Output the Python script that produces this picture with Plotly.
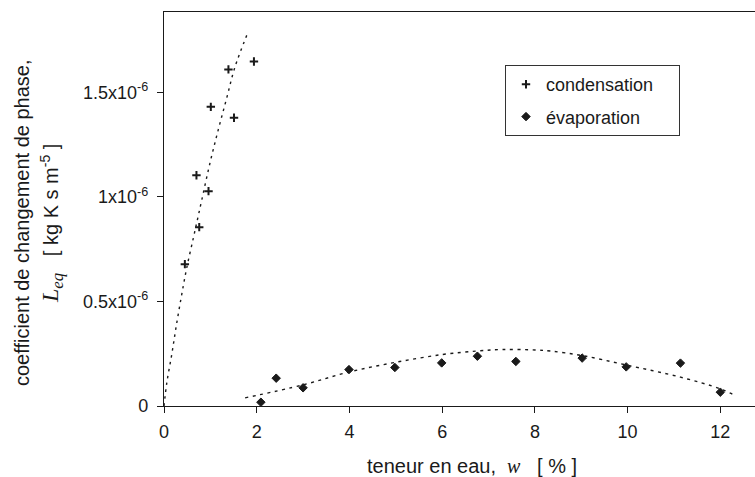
import plotly.graph_objects as go

# ---- data ----
cond_w = [0.45, 0.70, 0.76, 0.96, 1.01, 1.39, 1.51, 1.94]
cond_L = [0.678e-6, 1.103e-6, 0.855e-6, 1.027e-6, 1.430e-6, 1.609e-6, 1.378e-6, 1.647e-6]

evap_w = [2.09, 2.42, 3.00, 3.99, 4.98, 5.99, 6.76, 7.59, 9.02, 9.97, 11.14, 12.00]
evap_L = [0.018e-6, 0.133e-6, 0.087e-6, 0.174e-6, 0.184e-6, 0.206e-6, 0.238e-6,
          0.213e-6, 0.229e-6, 0.187e-6, 0.205e-6, 0.066e-6]

# trend curves
cond_fit_w = [0.0, 0.06, 0.17, 0.27, 0.38, 0.49, 0.63, 0.72, 0.81, 0.99, 1.17, 1.35, 1.53, 1.80]
cond_fit_L = [0.0, 0.11e-6, 0.25e-6, 0.39e-6, 0.53e-6, 0.66e-6, 0.80e-6, 0.89e-6, 0.98e-6,
              1.16e-6, 1.32e-6, 1.47e-6, 1.62e-6, 1.78e-6]

evap_fit_w = [1.75, 3.0, 4.0, 5.0, 6.0, 6.76, 7.3, 8.0, 8.36, 9.02, 9.97, 11.14, 12.0, 12.35]
evap_fit_L = [0.039e-6, 0.101e-6, 0.163e-6, 0.209e-6, 0.246e-6, 0.263e-6, 0.270e-6, 0.268e-6,
              0.262e-6, 0.241e-6, 0.196e-6, 0.138e-6, 0.082e-6, 0.047e-6]

x_ticks = [0, 2, 4, 6, 8, 10, 12]
y_tickvals = [0, 0.5e-6, 1e-6, 1.5e-6]
y_ticktext = ["0", "0.5x10<sup>-6</sup>", "1x10<sup>-6</sup>", "1.5x10<sup>-6</sup>"]

names = ["condensation", "évaporation"]

# ---- figure ----
W, H = 755, 477
ML, MR, MT, MB = 164, 0, 12, 71
PW, PH = W - ML - MR, H - MT - MB
INK = "#1a1a1a"
SANS = "Liberation Sans, Arial, sans-serif"


def px(xp):
    return (xp - ML) / PW


def py(yp):
    return (H - MB - yp) / PH


fig = go.Figure()

fig.add_trace(go.Scatter(x=cond_fit_w, y=cond_fit_L, mode="lines", showlegend=False,
                         line=dict(color=INK, width=1.4, dash="2.5px,4.5px", shape="spline"),
                         hoverinfo="skip"))
fig.add_trace(go.Scatter(x=evap_fit_w, y=evap_fit_L, mode="lines", showlegend=False,
                         line=dict(color=INK, width=1.4, dash="3px,4.5px", shape="spline"),
                         hoverinfo="skip"))

fig.add_trace(go.Scatter(x=cond_w, y=cond_L, mode="markers",
                         name=names[0] + "&nbsp;&nbsp;&nbsp;&nbsp;",
                         legendgroup="a",
                         marker=dict(symbol="cross-thin", size=6, color=INK,
                                     line=dict(color=INK, width=2))))
fig.add_trace(go.Scatter(x=evap_w, y=evap_L, mode="markers", name=names[1],
                         legendgroup="b",
                         marker=dict(symbol="diamond", size=6.5, color=INK,
                                     line=dict(color=INK, width=1))))

x_max = PW / 46.36
y_max = PH / 209.2 * 1e-6

fig.update_xaxes(range=[0, x_max], tickvals=x_ticks, ticks="outside", ticklen=6,
                 tickwidth=1.2, tickcolor=INK, showline=True, linecolor=INK, linewidth=1.3,
                 mirror=True, showgrid=False, zeroline=False, ticklabelstandoff=3,
                 tickfont=dict(family=SANS, size=18, color=INK))
fig.update_yaxes(range=[0, y_max], tickvals=y_tickvals, ticktext=y_ticktext,
                 ticks="outside", ticklen=6, tickwidth=1.2, tickcolor=INK,
                 showline=True, linecolor=INK, linewidth=1.3, mirror=False,
                 showgrid=False, zeroline=False, ticklabelstandoff=5,
                 tickfont=dict(family=SANS, size=18, color=INK))

annotations = [
    dict(text="teneur en eau,&nbsp;&nbsp;<span style=\"font-family:Liberation Serif\"><i>w</i></span>"
              "&nbsp;&nbsp;&nbsp;[ % ]",
         x=px(472), y=py(466), xref="paper", yref="paper", xanchor="center", yanchor="middle",
         showarrow=False, font=dict(family=SANS, size=20, color=INK)),
    dict(text="coefficient de changement de phase,",
         x=px(22), y=py(223), xref="paper", yref="paper", xanchor="center", yanchor="middle",
         textangle=-90, showarrow=False, font=dict(family=SANS, size=20, color=INK)),
    dict(text="<span style=\"font-family:Liberation Serif;font-size:24px\"><i>L</i><sub><i>eq</i></sub></span>"
              "&nbsp;&nbsp;&nbsp;[ kg K s m<sup>-5</sup> ]",
         x=px(52), y=py(224), xref="paper", yref="paper", xanchor="center", yanchor="middle",
         textangle=-90, showarrow=False, font=dict(family=SANS, size=20, color=INK)),
]

fig.update_layout(
    width=W, height=H,
    margin=dict(l=ML, r=MR, t=MT, b=MB, pad=0),
    paper_bgcolor="white", plot_bgcolor="white",
    font=dict(family=SANS, color=INK),
    annotations=annotations,
    showlegend=True,
    legend=dict(x=px(505), y=py(65), xanchor="left", yanchor="top",
                bordercolor="#333", borderwidth=1, bgcolor="white",
                font=dict(family=SANS, size=18, color=INK),
                tracegroupgap=6, traceorder="grouped"),
)

fig.write_html("out.html", config={"displayModeBar": False},
               post_script="document.body.style.margin='0px';")
